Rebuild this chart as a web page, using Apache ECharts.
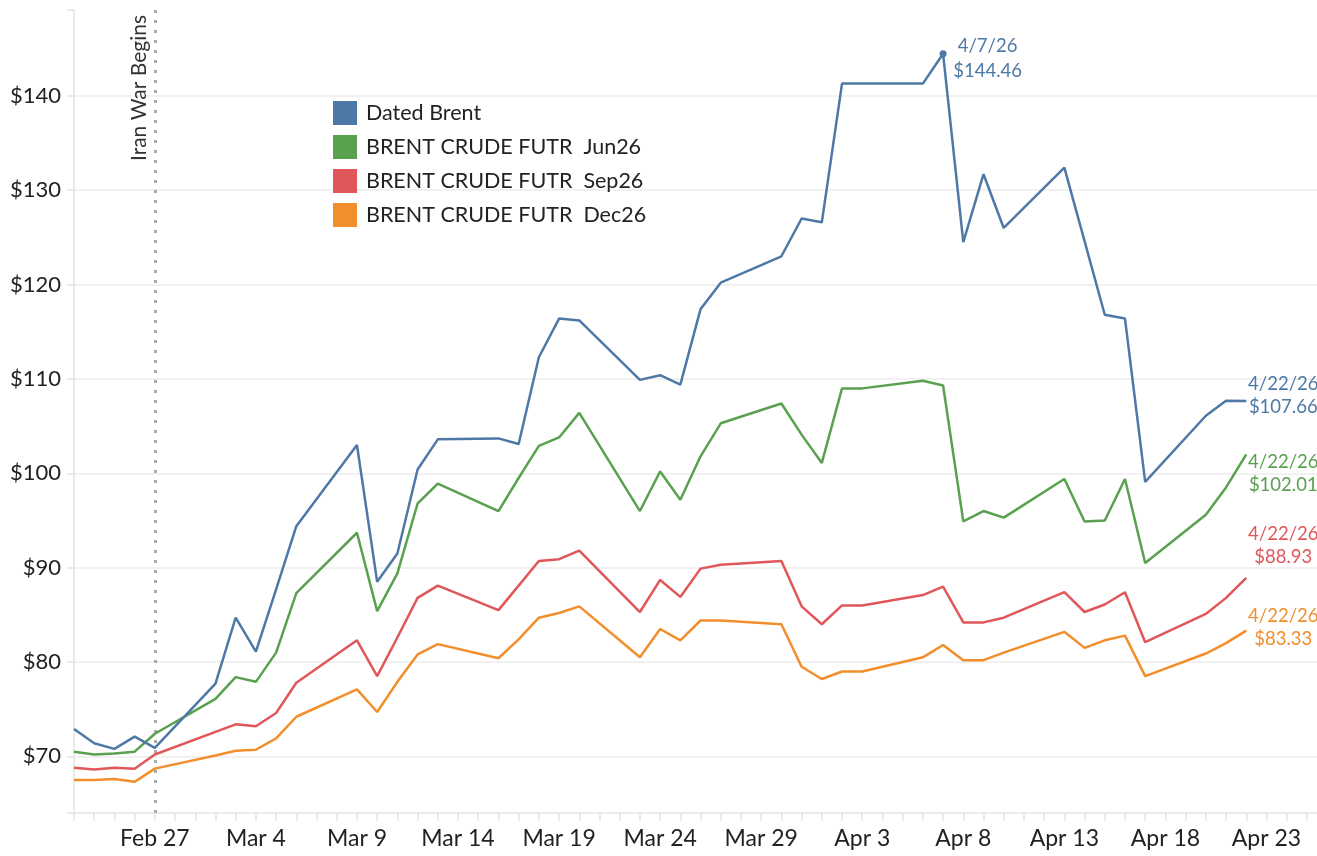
<!DOCTYPE html>
<html>
<head>
<meta charset="utf-8">
<script src="https://cdn.jsdelivr.net/npm/echarts@6/dist/echarts.min.js"></script>
<style>
  html, body { margin: 0; padding: 0; background: #fff; }
  #chart { width: 1317px; height: 856px; }
</style>
</head>
<body>
<div id="chart"></div>
<script>
var dates = [
  '2026-02-23', '2026-02-24', '2026-02-25', '2026-02-26', '2026-02-27',
  '2026-03-02', '2026-03-03', '2026-03-04', '2026-03-05', '2026-03-06',
  '2026-03-09', '2026-03-10', '2026-03-11', '2026-03-12', '2026-03-13',
  '2026-03-16', '2026-03-17', '2026-03-18', '2026-03-19', '2026-03-20',
  '2026-03-23', '2026-03-24', '2026-03-25', '2026-03-26', '2026-03-27',
  '2026-03-30', '2026-03-31', '2026-04-01', '2026-04-02', '2026-04-03',
  '2026-04-06', '2026-04-07', '2026-04-08', '2026-04-09', '2026-04-10',
  '2026-04-13', '2026-04-14', '2026-04-15', '2026-04-16', '2026-04-17',
  '2026-04-20', '2026-04-21', '2026-04-22'
];

var datedBrent = [
  72.9, 71.4, 70.8, 72.1, 70.9,
  77.7, 84.7, 81.1, 87.7, 94.4,
  103.0, 88.5, 91.5, 100.4, 103.6,
  103.7, 103.1, 112.3, 116.4, 116.2,
  109.9, 110.4, 109.4, 117.4, 120.2,
  123.0, 127.0, 126.6, 141.3, 141.3,
  141.3, 144.46, 124.5, 131.7, 126.0,
  132.4, 124.6, 116.8, 116.4, 99.1,
  106.1, 107.7, 107.66
];

var futJun26 = [
  70.5, 70.2, 70.3, 70.5, 72.4,
  76.1, 78.4, 77.9, 81.0, 87.3,
  93.7, 85.4, 89.4, 96.8, 98.9,
  96.0, 99.5, 102.9, 103.8, 106.4,
  96.0, 100.2, 97.2, 101.8, 105.3,
  107.4, 104.1, 101.1, 109.0, 109.0,
  109.8, 109.3, 94.9, 96.0, 95.3,
  99.4, 94.9, 95.0, 99.4, 90.5,
  95.6, 98.5, 102.01
];

var futSep26 = [
  68.8, 68.6, 68.8, 68.7, 70.2,
  72.6, 73.4, 73.2, 74.6, 77.8,
  82.3, 78.5, 82.6, 86.8, 88.1,
  85.5, 88.1, 90.7, 90.9, 91.8,
  85.3, 88.7, 86.9, 89.9, 90.3,
  90.7, 85.9, 84.0, 86.0, 86.0,
  87.1, 88.0, 84.2, 84.2, 84.7,
  87.4, 85.3, 86.1, 87.4, 82.1,
  85.1, 86.8, 88.93
];

var futDec26 = [
  67.5, 67.5, 67.6, 67.3, 68.7,
  70.1, 70.6, 70.7, 71.9, 74.2,
  77.1, 74.7, 77.9, 80.8, 81.9,
  80.4, 82.4, 84.7, 85.2, 85.9,
  80.5, 83.5, 82.3, 84.4, 84.4,
  84.0, 79.5, 78.2, 79.0, 79.0,
  80.5, 81.8, 80.2, 80.2, 81.0,
  83.2, 81.5, 82.3, 82.8, 78.5,
  80.9, 82.0, 83.33
];

var seriesNames = [
  'Dated Brent',
  'BRENT CRUDE FUTR  Jun26',
  'BRENT CRUDE FUTR  Sep26',
  'BRENT CRUDE FUTR  Dec26'
];
var colors = ['#4e79a7', '#59a14f', '#e15759', '#f28e2b'];
var warStart = '2026-02-27';
var warLabel = 'Iran War Begins';

var months = ['Jan', 'Feb', 'Mar', 'Apr', 'May', 'Jun', 'Jul', 'Aug', 'Sep', 'Oct', 'Nov', 'Dec'];
var baseDay = Date.UTC(2026, 1, 23);
var DAY = 86400000;

function dayIndex(s) {
  var p = s.split('-');
  return Math.round((Date.UTC(+p[0], +p[1] - 1, +p[2]) - baseDay) / DAY);
}
function shortDate(s) {
  var p = s.split('-');
  return (+p[1]) + '/' + (+p[2]) + '/' + p[0].slice(2);
}

var FONT = 'Lato, "Noto Sans", sans-serif';
var xs = dates.map(dayIndex);
var lastDate = shortDate(dates[dates.length - 1]);

function pairs(vals) {
  return vals.map(function(v, i) { return [xs[i], v]; });
}

// where the end labels sit relative to the last point
var endOffsets = [[37, -5], [37, 19], [37, -32], [37, -3]];

var chart = echarts.init(document.getElementById('chart'));

var series = [datedBrent, futJun26, futSep26, futDec26].map(function(vals, i) {
  var s = {
    name: seriesNames[i],
    type: 'line',
    data: pairs(vals),
    symbol: 'none',
    color: colors[i],
    lineStyle: { width: 2.5, color: colors[i] },
    z: 10 - i,
    endLabel: {
      show: true,
      formatter: function(p) { return lastDate + '\n$' + p.value[1].toFixed(2); },
      color: colors[i],
      fontFamily: FONT,
      fontSize: 18.5,
      lineHeight: 23,
      align: 'center',
      distance: 0,
      offset: endOffsets[i]
    }
  };
  if (i === 0) {
    s.markPoint = {
      symbol: 'circle',
      symbolSize: 7,
      itemStyle: { color: colors[0] },
      data: [{ type: 'max' }],
      label: {
        show: true,
        position: 'right',
        align: 'center',
        offset: [36, 5],
        formatter: function(p) {
          var idx = datedBrent.indexOf(p.value);
          return shortDate(dates[idx]) + '\n$' + p.value.toFixed(2);
        },
        color: colors[0],
        fontFamily: FONT,
        fontSize: 18.5,
        lineHeight: 25
      }
    };
    s.markLine = {
      silent: true,
      symbol: ['none', 'none'],
      lineStyle: { type: [3, 7], color: '#aaaaaa', width: 3 },
      label: {
        show: true,
        formatter: warLabel,
        position: 'insideEndTop',
        color: '#333',
        fontFamily: FONT,
        fontSize: 21,
        distance: 5
      },
      data: [{ xAxis: dayIndex(warStart) }]
    };
  }
  return s;
});

chart.setOption({
  animation: false,
  textStyle: { fontFamily: FONT },
  grid: { left: 74, right: 0, top: 10, bottom: 43 },
  legend: {
    data: seriesNames,
    orient: 'vertical',
    left: 333,
    top: 101,
    padding: 0,
    icon: 'rect',
    itemWidth: 24,
    itemHeight: 24,
    itemGap: 10,
    textStyle: { fontFamily: FONT, fontSize: 21.5, color: '#222', padding: [0, 0, 0, 4] }
  },
  xAxis: {
    type: 'value',
    min: 0,
    max: 61.5,
    interval: 1,
    axisLine: { show: true, lineStyle: { color: '#e3e3e3', width: 1.5 } },
    axisTick: { show: true, length: 8, lineStyle: { color: '#e3e3e3', width: 1.5 } },
    splitLine: { show: false },
    axisLabel: {
      fontFamily: FONT,
      fontSize: 23,
      color: '#222',
      margin: 14,
      showMaxLabel: false,
      formatter: function(v) {
        if (v % 1 !== 0 || (v - 4) % 5 !== 0) return '';
        var d = new Date(baseDay + v * DAY);
        return months[d.getUTCMonth()] + ' ' + d.getUTCDate();
      }
    }
  },
  yAxis: {
    type: 'value',
    min: 64,
    max: 149.1,
    splitNumber: 9,
    axisLine: { show: true, lineStyle: { color: '#e3e3e3', width: 1.5 } },
    axisTick: { show: true, length: 7, lineStyle: { color: '#e3e3e3', width: 1.5 } },
    splitLine: { show: true, showMinLine: false, showMaxLine: false, lineStyle: { color: '#ededed', width: 1.5 } },
    axisLabel: {
      fontFamily: FONT,
      fontSize: 22,
      color: '#222',
      margin: 13,
      formatter: function(v) { return v % 10 === 0 ? '$' + v : ''; }
    }
  },
  series: series
});
</script>
</body>
</html>
